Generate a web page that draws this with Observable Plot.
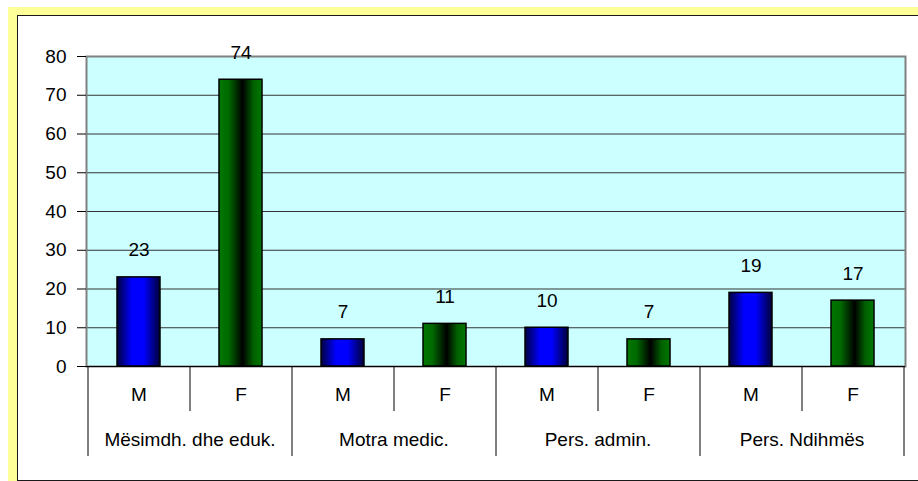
<!DOCTYPE html>
<html>
<head>
<meta charset="utf-8">
<script src="https://cdn.jsdelivr.net/npm/d3@7"></script>
<script src="https://cdn.jsdelivr.net/npm/@observablehq/plot@0.6"></script>
<style>
  html, body { margin: 0; padding: 0; background: #fff; }
  #page { position: relative; width: 918px; height: 481px; overflow: hidden; }
  #yellow { position: absolute; left: 8px; top: 7px; width: 940px; height: 500px; background: #FFFF99; }
  #inner { position: absolute; left: 17px; top: 15px; width: 930px; height: 464px; border: 1px solid #1a1a1a; background: #fff; }
  #chart { position: absolute; left: 0; top: 0; }
</style>
</head>
<body>
<div id="page">
  <div id="yellow"></div>
  <div id="inner"></div>
  <div id="chart"></div>
</div>
<script>
const groups = ["Mësimdh. dhe eduk.", "Motra medic.", "Pers. admin.", "Pers. Ndihmës"];
const sexes = ["M", "F"];
const valuesM = [23, 7, 10, 19];
const valuesF = [74, 11, 7, 17];
const yTicks = [0, 10, 20, 30, 40, 50, 60, 70, 80];

const rows = groups.flatMap((g, i) => [
  {group: g, sex: sexes[0], key: g + "|" + sexes[0], value: valuesM[i]},
  {group: g, sex: sexes[1], key: g + "|" + sexes[1], value: valuesF[i]}
]);
const keys = rows.map(d => d.key);
const mKeys = rows.filter(d => d.sex === "M").map(d => d.key);
const fKeys = rows.filter(d => d.sex === "F").map(d => d.key);
const lastKey = keys[keys.length - 1];

const base = {
  width: 918,
  height: 481,
  marginLeft: 86,
  marginRight: 13,
  marginTop: 56,
  marginBottom: 115,
  x: {type: "band", domain: keys, paddingInner: 0.575, paddingOuter: 0.2875, axis: null},
  y: {domain: [0, 80], axis: null}
};

// probe to read the band step from the library's scale
const probe = Plot.plot({...base, marks: [Plot.barY(rows, {x: "key", y: "value"})]});
const step = probe.scale("x").step;

const blank = () => "";

const chart = Plot.plot({
  ...base,
  style: {background: "transparent", fontFamily: "'Liberation Sans', Arial, sans-serif", fontSize: "19px", color: "#000"},
  marks: [
    Plot.frame({fill: "#CCFFFF"}),
    Plot.gridY(yTicks, {stroke: "#333", strokeOpacity: 1, strokeWidth: 1}),
    Plot.frame({stroke: "#808080", strokeWidth: 2}),
    Plot.barY(rows.filter(d => d.sex === "M"), {x: "key", y: "value", fill: "url(#gradBlue)", stroke: "#000", strokeWidth: 1.5}),
    Plot.barY(rows.filter(d => d.sex === "F"), {x: "key", y: "value", fill: "url(#gradGreen)", stroke: "#000", strokeWidth: 1.5}),
    Plot.text(rows, {x: "key", y: "value", text: d => String(d.value), dy: -27, fill: "#000"}),
    Plot.ruleY([0], {stroke: "#000"}),
    Plot.axisY(yTicks, {tickSize: 9, tickPadding: 11, label: null, tickFormat: d => String(d)}),
    Plot.axisX(keys, {tickSize: 0, tickPadding: 21, label: null, tickFormat: k => k.split("|")[1]}),
    Plot.axisX(mKeys, {tickSize: 0, tickPadding: 66, label: null, dx: step / 2, tickFormat: k => k.split("|")[0]}),
    Plot.axisX(mKeys, {tickSize: 90, label: null, dx: -step / 2, tickFormat: blank}),
    Plot.axisX(fKeys, {tickSize: 45, label: null, dx: -step / 2, tickFormat: blank}),
    Plot.axisX([lastKey], {tickSize: 90, label: null, dx: step / 2, tickFormat: blank})
  ]
});

// gradient definitions for the bar fills
const ns = "http://www.w3.org/2000/svg";
const defs = document.createElementNS(ns, "defs");
function grad(id, stops) {
  const lg = document.createElementNS(ns, "linearGradient");
  lg.setAttribute("id", id);
  lg.setAttribute("x1", "0"); lg.setAttribute("x2", "1");
  lg.setAttribute("y1", "0"); lg.setAttribute("y2", "0");
  for (const [o, c] of stops) {
    const s = document.createElementNS(ns, "stop");
    s.setAttribute("offset", o);
    s.setAttribute("stop-color", c);
    lg.appendChild(s);
  }
  defs.appendChild(lg);
}
grad("gradBlue", [["0%", "#000040"], ["35%", "#0000ff"], ["62%", "#0000ff"], ["100%", "#000038"]]);
grad("gradGreen", [["0%", "#007800"], ["22%", "#006a00"], ["55%", "#000000"], ["80%", "#006000"], ["100%", "#007800"]]);
chart.insertBefore(defs, chart.firstChild);

document.getElementById("chart").appendChild(chart);
</script>
</body>
</html>
